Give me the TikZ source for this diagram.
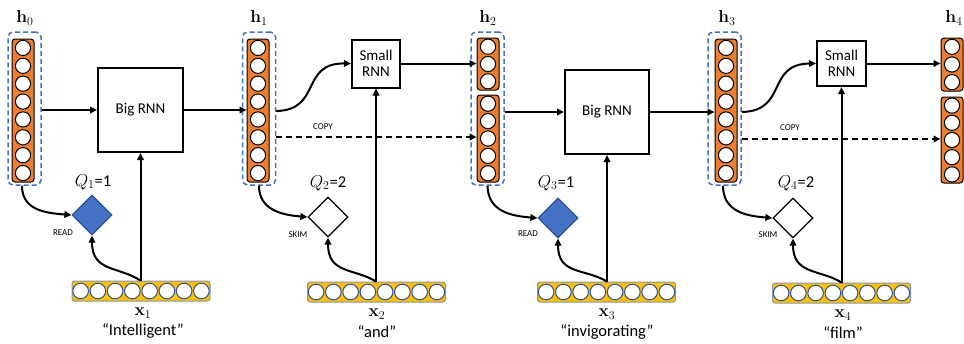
\documentclass[tikz,border=0pt]{standalone}
\usepackage[no-math]{fontspec}
\setmainfont{Carlito}
\usetikzlibrary{arrows.meta,shapes.geometric}
\definecolor{orng}{HTML}{ED7D31}
\definecolor{yell}{HTML}{FFC000}
\definecolor{oblue}{HTML}{4472C4}
\definecolor{dblue}{HTML}{2F528F}
\definecolor{gblue}{HTML}{8497B0}
\tikzset{
  hbar/.style={rectangle, draw=black, fill=orng, rounded corners=3pt, minimum width=22pt, inner sep=0pt, line width=1pt},
  hcirc/.style={draw=black, fill=white, line width=1pt},
  xbar/.style={rectangle, draw=gblue, fill=yell, rounded corners=2.5pt, minimum width=138pt, minimum height=20pt, inner sep=0pt, line width=1pt},
  xcirc/.style={draw=dblue, fill=white, line width=1pt},
  dbox/.style={rectangle, draw=oblue, dashed, dash pattern=on 5pt off 3pt, rounded corners=5pt, line width=1.5pt, inner sep=0pt, minimum width=33pt, minimum height=153pt},
  rnnbox/.style={draw=black, line width=2pt, fill=white, inner sep=0pt, align=center, font=\fontsize{15}{16.5}\selectfont},
  arr/.style={line width=2pt, -{Triangle[length=7pt,width=6.5pt]}},
  darr/.style={arr, dashed, dash pattern=on 6pt off 4pt},
  lbl/.style={font=\fontsize{16.5}{18}\selectfont, inner sep=0pt},
  smalllbl/.style={font=\fontsize{9}{10}\selectfont, inner sep=0pt},
  readdia/.style={diamond, draw=dblue, fill=oblue, line width=1.2pt, minimum width=40pt, minimum height=40pt, inner sep=0pt},
  skimdia/.style={diamond, draw=black, fill=white, line width=1.2pt, minimum width=40pt, minimum height=40pt, inner sep=0pt},
}
% vertical hidden-state column: name, x centre, y top, y bottom, number of cells
\newcommand{\hvec}[5]{%
  \node[hbar, minimum height={(#4-#3)*1pt}] (#1) at (#2,{(#3+#4)/2}) {};
  \pgfmathsetmacro\hpitch{(#4-#3)/#5}
  \foreach \k in {1,...,#5} { \draw[hcirc] (#2,{#3+(\k-0.5)*\hpitch}) circle[radius=7.6pt]; }
}
% horizontal input vector: name, x centre, y centre
\newcommand{\xvec}[3]{%
  \node[xbar] (#1) at (#2,#3) {};
  \foreach \k in {1,...,8} { \draw[xcirc] ({#2-69+(\k-0.5)*17.25},#3) circle[radius=7.8pt]; }
}
\begin{document}
\begin{tikzpicture}[x=1pt,y=-1pt]
\useasboundingbox (0,0) rectangle (964,343);

% hidden state columns
\hvec{h0c}{23}{39}{182}{8}
\hvec{h1c}{258}{39}{182}{8}
\hvec{h2a}{488}{38}{90}{3}
\hvec{h2b}{488}{95}{182}{5}
\hvec{h3c}{726}{39}{182}{8}
\hvec{h4a}{952}{38}{91}{3}
\hvec{h4b}{952}{97}{183}{5}

% dashed boxes
\node[dbox] (d0) at (24.5,108.5) {};
\node[dbox] (d1) at (259,108.5) {};
\node[dbox] (d2) at (487.5,108.5) {};
\node[dbox] (d3) at (724.5,108.5) {};

% labels h
\node[lbl] (lh0) at (25,18) {$\mathbf{h}_0$};
\node[lbl] (lh1) at (259,18) {$\mathbf{h}_1$};
\node[lbl] (lh2) at (488,18) {$\mathbf{h}_2$};
\node[lbl] (lh3) at (727,18) {$\mathbf{h}_3$};
\node[lbl] (lh4) at (954,18) {$\mathbf{h}_4$};

% RNN boxes
\node[rnnbox, minimum width=85pt, minimum height=84pt] (big1) at (140.5,110) {Big RNN};
\node[rnnbox, minimum width=84pt, minimum height=84pt] (big2) at (607,112) {Big RNN};
\node[rnnbox, minimum width=48pt, minimum height=48pt] (small1) at (376,63.5) {Small\\RNN};
\node[rnnbox, minimum width=49pt, minimum height=45pt] (small2) at (841.5,63.5) {Small\\RNN};

% diamonds
\node[readdia] (q1) at (92,215) {};
\node[skimdia] (q2) at (328,217) {};
\node[readdia] (q3) at (558,218) {};
\node[skimdia] (q4) at (793,218) {};

\node[lbl] (lq1) at (93,182) {$Q_1$=1};
\node[lbl] (lq2) at (328,183) {$Q_2$=2};
\node[lbl] (lq3) at (556,183) {$Q_3$=1};
\node[lbl] (lq4) at (796,183) {$Q_4$=2};

\node[smalllbl] (r1) at (63,233) {READ};
\node[smalllbl] (s2) at (298,235) {SKIM};
\node[smalllbl] (r3) at (528,234) {READ};
\node[smalllbl] (s4) at (768,235) {SKIM};
\node[smalllbl] (c1) at (323,127) {COPY};
\node[smalllbl] (c3) at (790,128) {COPY};

% input vectors
\xvec{x1}{141}{291}
\xvec{x2}{376.5}{292}
\xvec{x3}{606.5}{292}
\xvec{x4}{841.5}{293}

\node[lbl] (lx1) at (143,313) {$\mathbf{x}_1$};
\node[lbl] (lx2) at (377,314) {$\mathbf{x}_2$};
\node[lbl] (lx3) at (607,314) {$\mathbf{x}_3$};
\node[lbl] (lx4) at (843,315) {$\mathbf{x}_4$};
\node[lbl] (w1) at (143,331) {“Intelligent”};
\node[lbl] (w2) at (377,332) {“and”};
\node[lbl] (w3) at (607,332) {“invigorating”};
\node[lbl] (w4) at (843,333) {“film”};

% horizontal connectors
\draw[arr] (d0.east |- big1) -- (big1.west);
\draw[arr] (big1.east) -- (h1c.west |- big1);
\coordinate (s1) at (d1.east |- 0,111);
\draw[arr] (s1) .. controls (322,110) and (300,63) .. (small1.west);
\draw[arr] (small1.east) -- (h2a.west |- small1);
\coordinate (cp1) at (d1.east |- 0,137);
\draw[darr] (cp1) -- (h2b.west |- cp1);
\draw[arr] (d2.east |- big2) -- (big2.west);
\draw[arr] (big2.east) -- (h3c.west |- big2);
\coordinate (s3) at (d3.east |- 0,112);
\draw[arr] (s3) .. controls (788,111) and (766,64) .. (small2.west);
\draw[arr] (small2.east) -- (h4a.west |- small2);
\coordinate (cp3) at (d3.east |- 0,139);
\draw[darr] (cp3) -- (h4b.west |- cp3);

% vertical connectors
\draw[arr] (big1.south |- x1.north) -- (big1.south);
\draw[arr] (small1.south |- x2.north) -- (small1.south);
\draw[arr] (big2.south |- x3.north) -- (big2.south);
\draw[arr] (small2.south |- x4.north) -- (small2.south);

% curves to diamonds
\draw[arr] (d0.south -| 22,0) .. controls (22,210) and (45,213) .. (q1.west);
\draw[arr] (d1.south) .. controls (259,210) and (282,215) .. (q2.west);
\draw[arr] (d2.south) .. controls (488,212) and (512,216) .. (q3.west);
\draw[arr] (d3.south -| 723,0) .. controls (723,212) and (747,216) .. (q4.west);

\draw[arr] (big1.south |- x1.north) .. controls (118,266) and (92,272) .. (q1.south);
\draw[arr] (small1.south |- x2.north) .. controls (354,268) and (328,274) .. (q2.south);
\draw[arr] (big2.south |- x3.north) .. controls (584,268) and (558,275) .. (q3.south);
\draw[arr] (small2.south |- x4.north) .. controls (820,269) and (793,275) .. (q4.south);
\end{tikzpicture}
\end{document}
